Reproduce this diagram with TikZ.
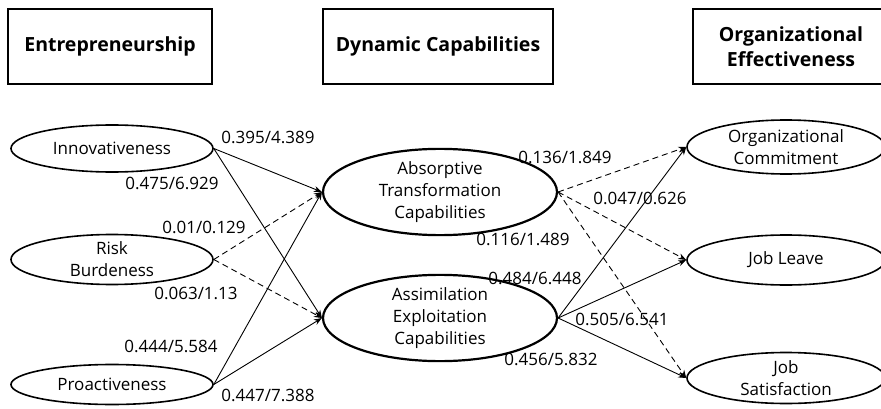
\documentclass[tikz,border=0pt]{standalone}
\usepackage{fontspec}
\setmainfont{Open Sans}
\usepackage{tikz}
\usetikzlibrary{positioning, arrows.meta, shapes.geometric}
\tikzset{
Header/.style={
	draw, line width=1.5pt,
	align=center,
	inner sep=0pt,
	minimum height=75pt,
	font=\bfseries\fontsize{19.5}{25}\selectfont
},
Factor/.style={
	draw, ellipse, line width=1.6pt,
	align=center,
	inner sep=0pt,
	minimum width=202pt,
	minimum height=47pt,
	font=\fontsize{17}{22}\selectfont
},
Capab/.style={
	Factor,
	line width=2.2pt,
	minimum width=234pt,
	minimum height=67pt
},
Outcome/.style={
	Factor,
	minimum width=198pt,
	minimum height=54pt
},
Path/.style={
	draw=black, line width=0.9pt,
	-{Stealth[length=8pt, width=6pt]}
},
WeakPath/.style={
	Path,
	dash pattern=on 6pt off 4pt
},
Coef/.style={
	inner sep=0pt,
	font=\fontsize{17}{18}\selectfont
}
}

\begin{document}
\begin{tikzpicture}[x=1pt, y=-1pt]
	\useasboundingbox (0,0) rectangle (881,409);
	\clip (0,0) rectangle (881,409);

	\node[Header, minimum width=204pt] (Ent) at (110,46.5) {Entrepreneurship};
	\node[Header, minimum width=230pt, right of=Ent, node distance=328pt] (Dyn) {Dynamic Capabilities};
	\node[Header, minimum width=196pt, right of=Dyn, node distance=353pt] (OrgEff) {Organizational\\Effectiveness};

	\node[Factor] (Inno) at (112,148.5) {Innovativeness};
	\node[Factor, below of=Inno, node distance=111pt, minimum height=50pt] (Risk) {Risk\\Burdeness};
	\node[Factor, below of=Risk, node distance=125pt, minimum height=40pt] (Pro) {Proactiveness};

	\node[Capab] (Absorb) at (440,192) {Absorptive\\Transformation\\Capabilities};
	\node[Capab, below of=Absorb, node distance=126pt] (Assim) {Assimilation\\Exploitation\\Capabilities};

	\node[Outcome] (Commit) at (786,147) {Organizational\\Commitment};
	\node[Outcome, below of=Commit, node distance=113pt, minimum height=50pt] (Leave) {Job Leave};
	\node[Outcome, below of=Leave, node distance=118pt, minimum height=51pt] (Satis) {Job\\Satisfaction};

	\draw[Path] (Inno.east) -- (Absorb.west);
	\draw[Path] (Inno.east) -- (Assim.west);
	\draw[WeakPath] (Risk.east) -- (Absorb.west);
	\draw[WeakPath] (Risk.east) -- (Assim.west);
	\draw[Path] (Pro.east) -- (Absorb.west);
	\draw[Path] (Pro.east) -- (Assim.west);

	\draw[WeakPath] (Absorb.east) -- (Commit.west);
	\draw[WeakPath] (Absorb.east) -- (Leave.west);
	\draw[WeakPath] (Absorb.east) -- (Satis.west);
	\draw[Path] (Assim.east) -- (Commit.west);
	\draw[Path] (Assim.east) -- (Leave.west);
	\draw[Path] (Assim.east) -- (Satis.west);

	% path coefficients
	\node[Coef] (c1) at (268,137) {0.395/4.389};
	\node[Coef] (c2) at (172,183) {0.475/6.929};
	\node[Coef] (c3) at (204,227) {0.01/0.129};
	\node[Coef] (c4) at (196,293) {0.063/1.13};
	\node[Coef] (c5) at (171,346) {0.444/5.584};
	\node[Coef] (c6) at (268,395) {0.447/7.388};
	\node[Coef] (c7) at (565,157) {0.136/1.849};
	\node[Coef] (c8) at (523,239) {0.116/1.489};
	\node[Coef] (c9) at (535,278) {0.484/6.448};
	\node[Coef] (c10) at (551,359) {0.456/5.832};
	\node[Coef] (c11) at (640,198) {0.047/0.626};
	\node[Coef] (c12) at (622,319) {0.505/6.541};
\end{tikzpicture}
\end{document}
